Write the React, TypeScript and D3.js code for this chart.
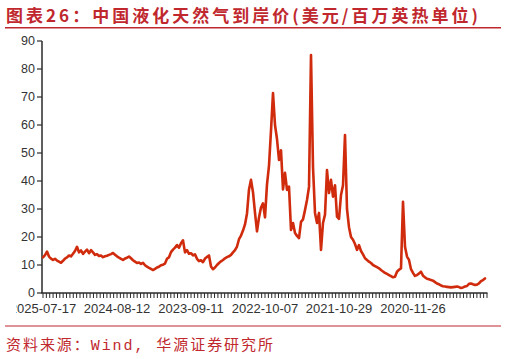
import React from "react";
import * as d3 from "d3";

// China LNG landed price (USD/MMBtu), display order: newest (left) -> oldest (right)
const lngPrice: number[] = [
  12.75, 13.5, 14.8, 13, 12.3, 11.8, 12.2, 11.6, 11.2, 10.8,
  11.5, 12.3, 12.7, 13.4, 13.1, 14, 15, 16.5, 14.5, 15.2,
  14, 14.8, 15.5, 14.2, 15.3, 14.5, 13.6, 13.9, 13.2, 13.4,
  12.8, 13.1, 13.3, 13.6, 13.9, 14.3, 13.7, 13.1, 12.6, 12.2,
  11.8, 12.3, 12.6, 13, 12.4, 11.7, 11.2, 10.7, 10.9, 10.4,
  10.8, 9.9, 9.4, 9, 8.6, 8.2, 8.6, 9.1, 9.4, 9.9,
  10.1, 10.5, 12.2, 12.8, 14.6, 15.5, 16.2, 17.1, 16.2, 17.8,
  18.8, 14.5, 15.3, 14, 14.2, 13.4, 13.8, 12.2, 11.4, 11.7,
  11, 12.3, 12.9, 13.4, 9.5, 8.5, 9.1, 10, 10.7, 11.3,
  11.8, 12.4, 12.8, 13.1, 13.6, 14.5, 15.3, 16.6, 19.2, 20.5,
  22.3, 24.5, 28.4, 37, 40.4, 36, 28.6, 22, 27, 30.5,
  32, 27, 38.8, 45.5, 58, 71.4, 60, 55, 47.5, 51,
  37, 42.9, 36.8, 38, 22.5, 25, 21.4, 20.4, 19.6, 25.4,
  26.3, 29.6, 33.2, 37.9, 85, 45, 28.6, 25, 28.6, 15.4,
  25, 28, 43.9, 35.7, 40.4, 34.4, 38.5, 27.3, 26.5, 35,
  38.5, 56.4, 30, 23.5, 20, 19, 17.5, 15.4, 17.1, 15,
  13.8, 12.4, 11.8, 11.2, 10.7, 10, 9.6, 9.2, 8.8, 8.2,
  7.7, 7.2, 6.8, 6.4, 6.0, 5.6, 5.8, 7.6, 8.3, 8.8,
  32.6, 16.5, 13, 11.8, 8.5, 7.2, 6.1, 6.4, 7.0, 7.6,
  6.2, 5.6, 5.1, 4.9, 4.6, 4.4, 3.9, 3.4, 3.1, 2.7,
  2.4, 2.3, 2.2, 2.1, 2.0, 2.1, 2.2, 2.3, 2.1, 1.8,
  2.0, 2.3, 2.5, 3.3, 3.4, 3.1, 2.9, 3.0, 3.4, 4.2,
  4.6, 5.2,
];

const dateLabels: string[] = [
  "2025-07-17",
  "2024-08-12",
  "2023-09-11",
  "2022-10-07",
  "2021-10-29",
  "2020-11-26",
];
const labelEvery = 37;
const minorTicksPerLabel = 22;
const yTicks: number[] = [0, 10, 20, 30, 40, 50, 60, 70, 80, 90];

const titleText = "图表26：中国液化天然气到岸价(美元/百万英热单位)";
const sourceText = "资料来源：Wind, 华源证券研究所";

const W = 506;
const H = 359;
const red = "#C0282E";
const lineRed = "#CF2B0C";
const axisColor = "#2a2a2a";
const tickFont = "'Liberation Sans', Arial, sans-serif";

export default function App() {
  const N = lngPrice.length;
  const x = d3.scaleLinear().domain([0, N]).range([43, 487]);
  const y = d3.scaleLinear().domain([0, 90]).range([293, 41]);

  const line = d3
    .line<number>()
    .x((_, i) => x(i))
    .y((d) => y(d))
    .curve(d3.curveLinear);

  const minorStep = labelEvery / minorTicksPerLabel;
  const minorTicks = d3.range(0, N + 0.001, minorStep);

  return (
    <div style={{ position: "absolute", left: 0, top: 0 }}>
      <svg width={W} height={H} style={{ display: "block", background: "#fff" }}>
        <defs>
          <clipPath id="chartClip">
            <rect x={16} y={30} width={480} height={292} />
          </clipPath>
        </defs>
        {/* Title */}
        <text
          x={6}
          y={22}
          fill={red}
          fontSize={17}
          fontWeight={700}
          fontFamily="'Noto Sans CJK SC', sans-serif"
          textLength={472}
          lengthAdjust="spacing"
        >
          {titleText}
        </text>
        <line x1={5} x2={501} y1={27.7} y2={27.7} stroke={red} strokeWidth={1.4} />

        <g clipPath="url(#chartClip)">
          {/* y axis */}
          <line x1={x(0) - 1} x2={x(0) - 1} y1={y(90)} y2={y(0)} stroke={axisColor} strokeWidth={1.5} />
          {yTicks.map((t) => (
            <g key={t}>
              <line x1={x(0) - 6} x2={x(0) - 1} y1={y(t)} y2={y(t)} stroke={axisColor} strokeWidth={1.2} />
              <text
                x={35}
                y={y(t)}
                dy="0.35em"
                textAnchor="end"
                fontSize={12.5}
                fontFamily={tickFont}
                fill="#333"
              >
                {t}
              </text>
            </g>
          ))}
          {/* x axis */}
          <line x1={x(0) - 1.7} x2={x(N) + 0.5} y1={y(0)} y2={y(0)} stroke={axisColor} strokeWidth={1.5} />
          {minorTicks.map((t, i) => (
            <line
              key={i}
              x1={x(t)}
              x2={x(t)}
              y1={y(0)}
              y2={y(0) + 5}
              stroke={axisColor}
              strokeWidth={1}
            />
          ))}
          {dateLabels.map((lbl, k) => (
            <text
              key={lbl}
              x={x(k * labelEvery)}
              y={313}
              textAnchor="middle"
              fontSize={13}
              fontFamily={tickFont}
              fill="#333"
            >
              {lbl}
            </text>
          ))}
          {/* series */}
          <path
            d={line(lngPrice) || ""}
            fill="none"
            stroke={lineRed}
            strokeWidth={2.6}
            strokeLinejoin="round"
            strokeLinecap="round"
          />
        </g>

        {/* Footer */}
        <line x1={5} x2={501} y1={326} y2={326} stroke={red} strokeWidth={1.2} />
        <text
          x={6}
          y={350}
          fill={red}
          fontSize={15}
          fontFamily="'Liberation Mono', 'Noto Sans CJK SC', monospace"
          textLength={267}
          lengthAdjust="spacing"
        >
          {sourceText}
        </text>
      </svg>
    </div>
  );
}
